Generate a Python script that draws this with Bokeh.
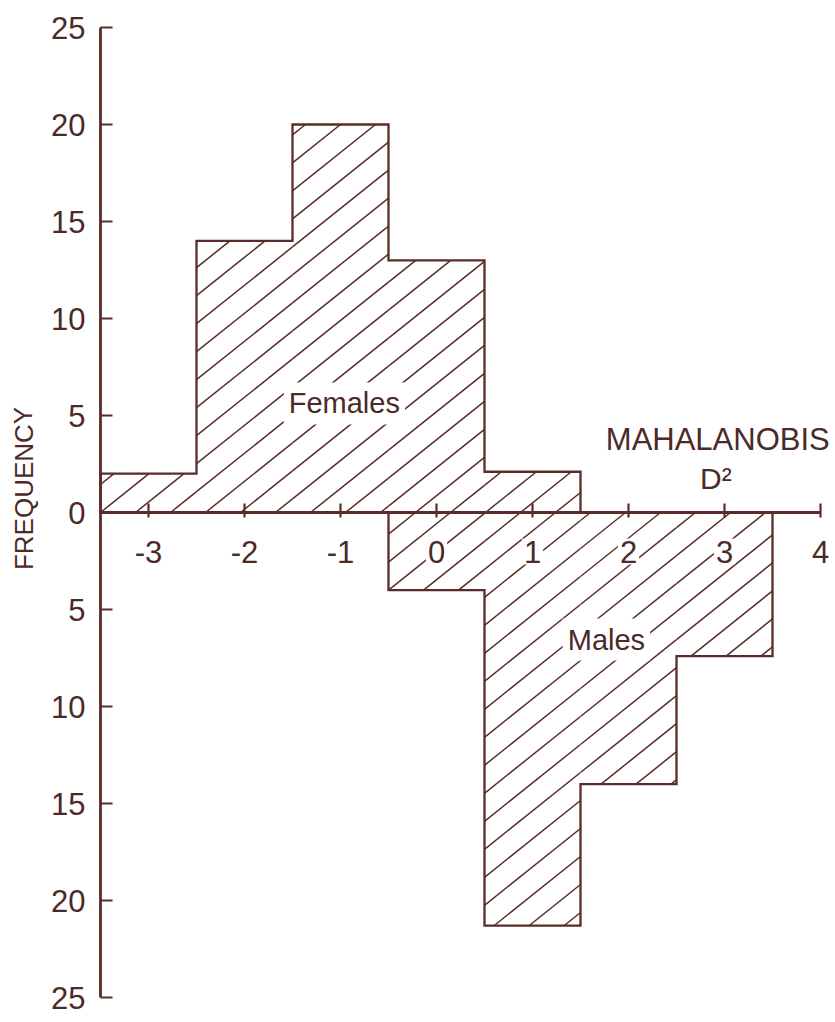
import math
from bokeh.plotting import figure
from bokeh.models import Range1d
from bokeh.core.properties import value
from bokeh.embed import file_html
from bokeh.resources import INLINE

# ---------------- data ----------------
FEMALE_EDGES = [-3.5, -2.5, -1.5, -0.5, 0.5, 1.5]
FEMALE_COUNTS = [2, 14, 20, 13, 2.1]
MALE_EDGES = [-0.5, 0.5, 1.5, 2.5, 3.5]
MALE_COUNTS = [4, 21.3, 14, 7.4]
X_TICKS = [-3, -2, -1, 0, 1, 2, 3, 4]
X_TICK_LABELS = ["-3", "-2", "-1", "0", "1", "2", "3", "4"]
Y_TICKS = [-25, -20, -15, -10, -5, 0, 5, 10, 15, 20, 25]
Y_TICK_LABELS = ["25", "20", "15", "10", "5", "0", "5", "10", "15", "20", "25"]

# ---------------- style / layout ----------------
W, H = 835, 1020
PX_X = 96.0          # px per x unit
PX_Y = 19.4          # px per y unit
AXIS_PX = 100.0      # canvas px of the y axis
Y0_PX = 512          # canvas px of y = 0
X_AXIS = FEMALE_EDGES[0]
LINE = "#5a2c29"
TXT = "#4b2a28"
FONT = value("Liberation Sans")
HATCH_SLOPE_PX = 0.80
HATCH_DX_PX = 35.0

x_start = X_AXIS - AXIS_PX / PX_X
p = figure(width=W, height=H, output_backend="svg", toolbar_location=None,
           x_axis_location=None, y_axis_location=None,
           x_range=Range1d(x_start, x_start + W / PX_X),
           y_range=Range1d(-(H - Y0_PX) / PX_Y, Y0_PX / PX_Y),
           min_border_left=0, min_border_right=0, min_border_top=0, min_border_bottom=0)
p.outline_line_color = None
p.grid.visible = False
p.background_fill_color = "white"
p.border_fill_color = "white"

# ---------------- hatching ----------------
k = HATCH_SLOPE_PX * PX_X / PX_Y
dx = HATCH_DX_PX / PX_X


def rects(edges, counts, sign):
    out = []
    for i, c in enumerate(counts):
        if sign > 0:
            out.append((edges[i], edges[i + 1], 0.0, c))
        else:
            out.append((edges[i], edges[i + 1], -c, 0.0))
    return out


def hatch(rs):
    x0s, y0s, x1s, y1s = [], [], [], []
    for (xa, xb, ya_, yb) in rs:
        jmin = math.floor((xa - yb / k - X_AXIS) / dx) - 1
        jmax = math.ceil((xb - ya_ / k - X_AXIS) / dx) + 1
        for j in range(jmin, jmax + 1):
            xj = X_AXIS + j * dx
            lo = max(xa, xj + ya_ / k)
            hi = min(xb, xj + yb / k)
            if hi > lo + 1e-9:
                x0s.append(lo); y0s.append(k * (lo - xj))
                x1s.append(hi); y1s.append(k * (hi - xj))
    return x0s, y0s, x1s, y1s


allr = rects(FEMALE_EDGES, FEMALE_COUNTS, 1) + rects(MALE_EDGES, MALE_COUNTS, -1)
hx0, hy0, hx1, hy1 = hatch(allr)
p.segment(x0=hx0, y0=hy0, x1=hx1, y1=hy1, line_color=LINE, line_width=1.5)


def step_outline(edges, counts, sign):
    xs, ys = [edges[0]], [0]
    for i, c in enumerate(counts):
        xs += [edges[i], edges[i + 1]]
        ys += [sign * c, sign * c]
    xs.append(edges[-1]); ys.append(0)
    return xs, ys


fx, fy = step_outline(FEMALE_EDGES, FEMALE_COUNTS, 1)
mx, my = step_outline(MALE_EDGES, MALE_COUNTS, -1)
p.line(fx, fy, line_color=LINE, line_width=2.3, line_join="miter")
p.line(mx, my, line_color=LINE, line_width=2.3, line_join="miter")

# ---------------- y axis (at x = -3.5) ----------------
p.line([X_AXIS, X_AXIS], [min(Y_TICKS), max(Y_TICKS)], line_color=LINE, line_width=2.8)
p.segment(x0=[X_AXIS] * len(Y_TICKS), y0=Y_TICKS,
          x1=[X_AXIS + 12 / PX_X] * len(Y_TICKS), y1=Y_TICKS,
          line_color=LINE, line_width=2.2)
p.text(x=[X_AXIS - 15 / PX_X] * len(Y_TICKS), y=Y_TICKS, text=Y_TICK_LABELS,
       text_align="right", text_baseline="middle", text_font=FONT,
       text_font_size="31px", text_color=TXT)

# ---------------- x axis (at y = 0) ----------------
p.line([X_AXIS, max(X_TICKS)], [0, 0], line_color=LINE, line_width=2.8)
p.segment(x0=X_TICKS, y0=[9 / PX_Y] * len(X_TICKS), x1=X_TICKS, y1=[-5 / PX_Y] * len(X_TICKS),
          line_color=LINE, line_width=2.2)
p.text(x=X_TICKS, y=[-39 / PX_Y] * len(X_TICKS), text=X_TICK_LABELS,
       text_align="center", text_baseline="middle", text_font=FONT,
       text_font_size="31px", text_color=TXT,
       background_fill_color="white", padding=2)

# ---------------- labels ----------------
p.text(x=[-0.96], y=[5.62], text=["Females"], text_align="center", text_baseline="middle",
       text_font=FONT, text_font_size="29px", text_color=TXT,
       background_fill_color="white", padding=5)
p.text(x=[1.77], y=[-6.55], text=["Males"], text_align="center", text_baseline="middle",
       text_font=FONT, text_font_size="29px", text_color=TXT,
       background_fill_color="white", padding=5)
p.text(x=[2.93], y=[3.76], text=["MAHALANOBIS"], text_align="center", text_baseline="middle",
       text_font=FONT, text_font_size="31px", text_color=TXT)
p.text(x=[2.91], y=[1.75], text=["D\u00b2"], text_align="center", text_baseline="middle",
       text_font=FONT, text_font_size="30px", text_color=TXT)
p.text(x=[X_AXIS - 77 / PX_X], y=[1.24], text=["FREQUENCY"], angle=[math.pi / 2],
       text_align="center", text_baseline="middle",
       text_font=FONT, text_font_size="26px", text_color=TXT)

open("out.html", "w").write(file_html(p, INLINE))
